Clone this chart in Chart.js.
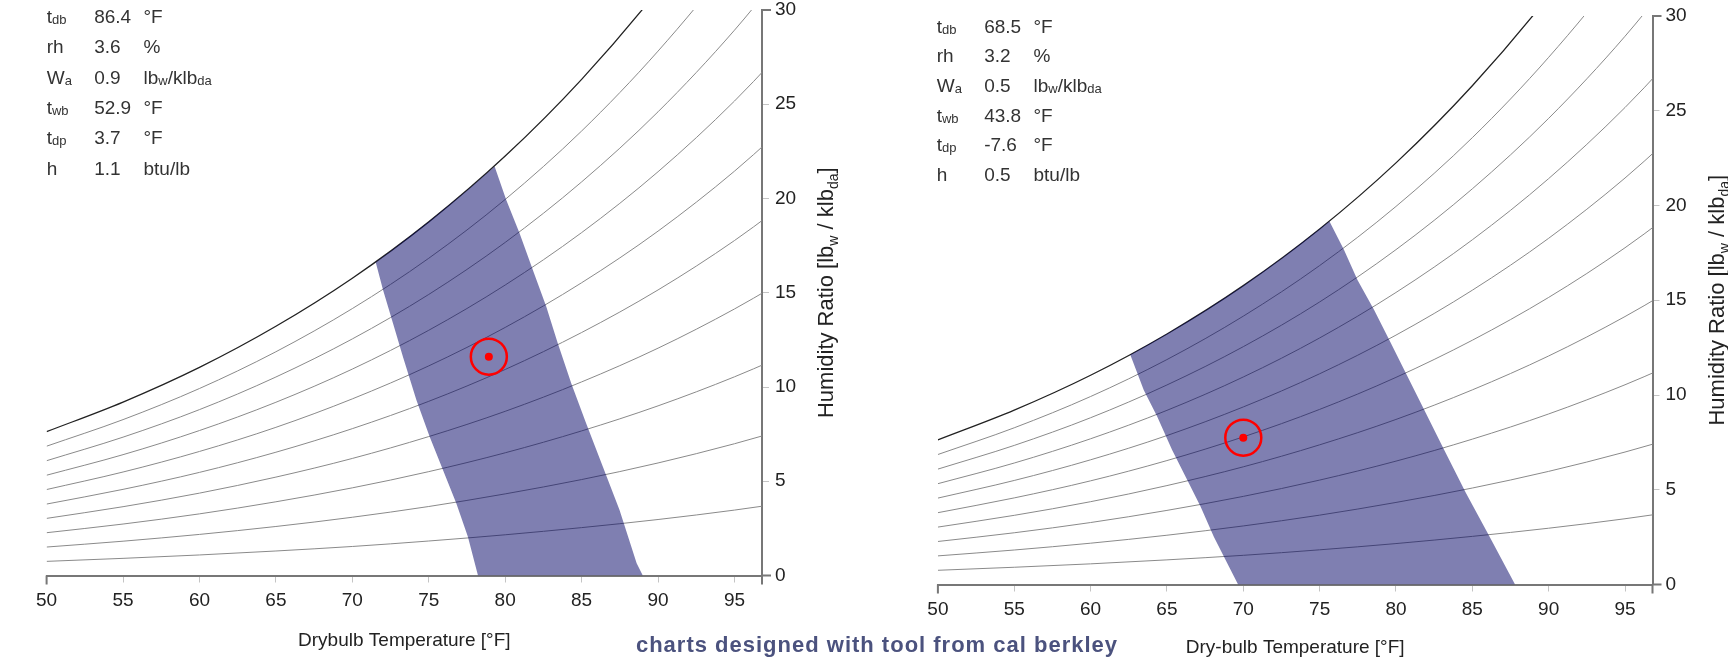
<!DOCTYPE html>
<html><head><meta charset="utf-8">
<script src="https://cdn.jsdelivr.net/npm/chart.js@4.4.0/dist/chart.umd.min.js"></script>
<style>
html,body{margin:0;padding:0;background:#fff;width:1728px;height:662px;overflow:hidden;}
#c1{position:absolute;left:0;top:0;}
#c2{position:absolute;left:864px;top:0;}
#foot{position:absolute;left:0;width:1754px;top:632px;line-height:22px;text-align:center;font:bold 22px 'Liberation Sans',Arial,sans-serif;letter-spacing:1px;color:#4b527e;white-space:nowrap;}
</style></head>
<body>
<canvas id="c1" width="864" height="662"></canvas>
<canvas id="c2" width="864" height="662"></canvas>
<div id="foot">charts designed with tool from cal berkley</div>
<script>
// ---- data ----
const temps = [50, 55, 60, 65, 70, 75, 80, 85, 90, 95, 100];          // dry-bulb °F
const rh10  = [0.75, 0.91, 1.09, 1.30, 1.54, 1.83, 2.16, 2.54, 2.97, 3.47, 4.05];
const rh20  = [1.51, 1.82, 2.18, 2.60, 3.09, 3.66, 4.33, 5.09, 5.97, 6.99, 8.15];
const rh30  = [2.27, 2.73, 3.27, 3.91, 4.65, 5.51, 6.51, 7.67, 9.00, 10.54, 12.30];
const rh40  = [3.03, 3.65, 4.37, 5.22, 6.21, 7.37, 8.71, 10.27, 12.06, 14.14, 16.51];
const rh50  = [3.79, 4.57, 5.47, 6.54, 7.79, 9.24, 10.93, 12.89, 15.15, 17.77, 20.78];
const rh60  = [4.56, 5.49, 6.58, 7.86, 9.37, 11.12, 13.16, 15.53, 18.27, 21.45, 25.10];
const rh70  = [5.32, 6.41, 7.69, 9.19, 10.95, 13.01, 15.41, 18.19, 21.42, 25.17, 29.49];
const rh80  = [6.09, 7.34, 8.80, 10.53, 12.55, 14.91, 17.67, 20.88, 24.60, 28.93, 33.93];
const rh90  = [6.86, 8.27, 9.92, 11.87, 14.16, 16.83, 19.95, 23.58, 27.82, 32.73, 38.43];
const sat   = [7.63, 9.20, 11.04, 13.22, 15.77, 18.76, 22.25, 26.32, 31.06, 36.58, 43.00];

const leftZoneT = [71.53, 72.5, 75, 77.5, 79.31, 80.07, 80.94, 81.81, 82.69, 83.44, 84.32, 85.30, 86.39, 87.48, 88.60, 89.00, 78.22, 77.56, 76.80, 75.93, 75.06, 74.19, 73.31, 72.66, 72.01];
const leftZoneW = [16.62, 17.20, 18.76, 20.43, 21.70, 19.92, 18.15, 16.21, 14.26, 12.32, 10.20, 8.07, 5.77, 3.47, 0.65, 0, 0, 2.06, 3.83, 5.60, 7.36, 9.31, 11.61, 13.38, 15.15];
const rightZoneT = [62.60, 65, 67.5, 70, 72.5, 75, 75.64, 76.60, 77.48, 78.57, 79.67, 80.65, 81.96, 83.16, 84.59, 86.01, 87.80, 69.66, 68.95, 68.07, 67.20, 66.33, 65.34, 64.36, 63.48];
const rightZoneW = [12.13, 13.22, 14.44, 15.77, 17.20, 18.76, 19.17, 17.65, 16.07, 14.49, 12.73, 11.15, 9.04, 7.10, 4.81, 2.70, 0, 0, 1.12, 2.52, 4.11, 5.51, 7.10, 8.86, 10.26];

const leftPoint  = {x: 78.93, y: 11.61};
const rightPoint = {x: 70.00, y: 7.75};

const xTickStep = 5, xMin = 50, xMax = 96.8;
const yTickStep = 5, yMin = 0, yMax = 30;

const infoLabels = [[['t',0],['db',1]], [['rh',0]], [['W',0],['a',1]], [['t',0],['wb',1]], [['t',0],['dp',1]], [['h',0]]];
const infoUnits  = [[['°F',0]], [['%',0]], [['lb',0],['w',1],['/klb',0],['da',1]], [['°F',0]], [['°F',0]], [['btu/lb',0]]];
const leftInfoValues  = ['86.4', '3.6', '0.9', '52.9', '3.7', '1.1'];
const rightInfoValues = ['68.5', '3.2', '0.5', '43.8', '-7.6', '0.5'];

const yTitle = [['Humidity Ratio [lb',0],['w',1],[' / klb',0],['da',1],[']',0]];
const leftXTitle = 'Drybulb Temperature [°F]';
const rightXTitle = 'Dry-bulb Temperature [°F]';

// ---- drawing ----
const FAM = "'Liberation Sans', Arial, sans-serif";
Chart.defaults.font.family = FAM;
const fnt = (s) => s + 'px ' + FAM;

function drawRich(ctx, segs, x, y, size, subSize, drop) {
  for (const [t, s] of segs) {
    ctx.font = fnt(s ? subSize : size);
    ctx.fillText(t, x, y + (s ? drop : 0));
    x += ctx.measureText(t).width;
  }
}
function richWidth(ctx, segs, size, subSize) {
  let w = 0;
  for (const [t, s] of segs) { ctx.font = fnt(s ? subSize : size); w += ctx.measureText(t).width; }
  return w;
}

function pts(xs, ys) { return xs.map((x, i) => ({x: x, y: ys[i]})); }
function curve(vals, color, width) {
  return {data: pts(temps, vals), borderColor: color, borderWidth: width, pointRadius: 0,
          fill: false, cubicInterpolationMode: 'monotone'};
}

function makeChart(id, geo, zoneT, zoneW, point, values, xTitle) {
  const textPlugin = {
    id: 'texts',
    afterDraw(chart) {
      const ctx = chart.ctx, a = chart.chartArea;
      ctx.save();
      ctx.fillStyle = '#333';
      ctx.textBaseline = 'alphabetic';
      ctx.textAlign = 'left';
      // info block
      for (let i = 0; i < infoLabels.length; i++) {
        const y = geo.infoY + i * geo.infoDy;
        drawRich(ctx, infoLabels[i], geo.infoX, y, 19, 13, 1);
        ctx.font = fnt(19);
        ctx.fillText(values[i], geo.infoX + 47.5, y);
        drawRich(ctx, infoUnits[i], geo.infoX + 96.8, y, 19, 13, 1);
      }
      // x title
      ctx.font = fnt(19);
      ctx.textAlign = 'center';
      ctx.fillStyle = '#222';
      ctx.fillText(xTitle, (a.left + a.right) / 2, a.bottom + geo.xTitleOff);
      // y title rotated (reads bottom to top)
      ctx.textAlign = 'left';
      const w = richWidth(ctx, yTitle, 22, 14);
      ctx.translate(a.right + 71, (a.top + a.bottom) / 2);
      ctx.rotate(-Math.PI / 2);
      drawRich(ctx, yTitle, -w / 2, 0, 22, 14, 5);
      ctx.restore();
      // outer ticks at domain ends
      ctx.save();
      ctx.strokeStyle = '#777';
      ctx.lineWidth = 2;
      ctx.beginPath();
      ctx.moveTo(a.left, a.bottom); ctx.lineTo(a.left, a.bottom + 9);
      ctx.moveTo(a.right, a.bottom); ctx.lineTo(a.right, a.bottom + 9);
      ctx.moveTo(a.right, a.top); ctx.lineTo(a.right + 9, a.top);
      ctx.moveTo(a.right, a.bottom); ctx.lineTo(a.right + 9, a.bottom);
      ctx.stroke();
      ctx.restore();
    }
  };
  const grey = '#8a8a8a';
  return new Chart(document.getElementById(id), {
    type: 'line',
    data: {
      datasets: [
        {data: [point], pointRadius: 4, pointBackgroundColor: '#f00', pointBorderWidth: 0, showLine: false},
        {data: [point], pointRadius: 18, pointBackgroundColor: 'rgba(0,0,0,0)', pointBorderColor: '#f00', pointBorderWidth: 2.5, showLine: false},
        {data: pts(zoneT, zoneW), borderWidth: 0, borderColor: 'rgba(0,0,0,0)', backgroundColor: 'rgba(0,0,100,0.5)', fill: 'shape', pointRadius: 0, tension: 0},
        curve(sat, '#222', 1.3),
        curve(rh90, grey, 1), curve(rh80, grey, 1), curve(rh70, grey, 1), curve(rh60, grey, 1),
        curve(rh50, grey, 1), curve(rh40, grey, 1), curve(rh30, grey, 1), curve(rh20, grey, 1),
        curve(rh10, grey, 1)
      ]
    },
    options: {
      responsive: false, animation: false, devicePixelRatio: 1,
      layout: {autoPadding: false, padding: {left: geo.padL, top: geo.padT, right: 0, bottom: 0}},
      plugins: {legend: {display: false}, tooltip: {enabled: false}},
      events: [],
      scales: {
        x: {
          type: 'linear', min: xMin, max: xMax,
          ticks: {stepSize: xTickStep, includeBounds: false, padding: 7, color: '#222', font: {size: 19}, maxRotation: 0, autoSkip: false},
          grid: {drawOnChartArea: false, drawTicks: true, tickLength: 7, tickColor: '#c4c4c4', tickWidth: 1},
          border: {display: true, color: '#777', width: 2},
          afterFit(s) { s.height = geo.xH; s.paddingLeft = 0; s.paddingRight = 0; }
        },
        y: {
          type: 'linear', position: 'right', min: yMin, max: yMax,
          ticks: {stepSize: yTickStep, includeBounds: false, padding: 6, color: '#222', font: {size: 19}},
          grid: {drawOnChartArea: false, drawTicks: true, tickLength: 7, tickColor: '#c4c4c4', tickWidth: 1},
          border: {display: true, color: '#777', width: 2},
          afterFit(s) { s.width = geo.yW; s.paddingTop = 0; s.paddingBottom = 0; }
        }
      }
    },
    plugins: [textPlugin]
  });
}

makeChart('c1', {padL: 46.6, padT: 10, xH: 86.5, yW: 102, infoX: 46.7, infoY: 23, infoDy: 30.3, xTitleOff: 70.5},
          leftZoneT, leftZoneW, leftPoint, leftInfoValues, leftXTitle);
makeChart('c2', {padL: 73.9, padT: 16, xH: 77.5, yW: 75.5, infoX: 72.7, infoY: 32.8, infoDy: 29.6, xTitleOff: 68.5},
          rightZoneT, rightZoneW, rightPoint, rightInfoValues, rightXTitle);
</script>
</body></html>
